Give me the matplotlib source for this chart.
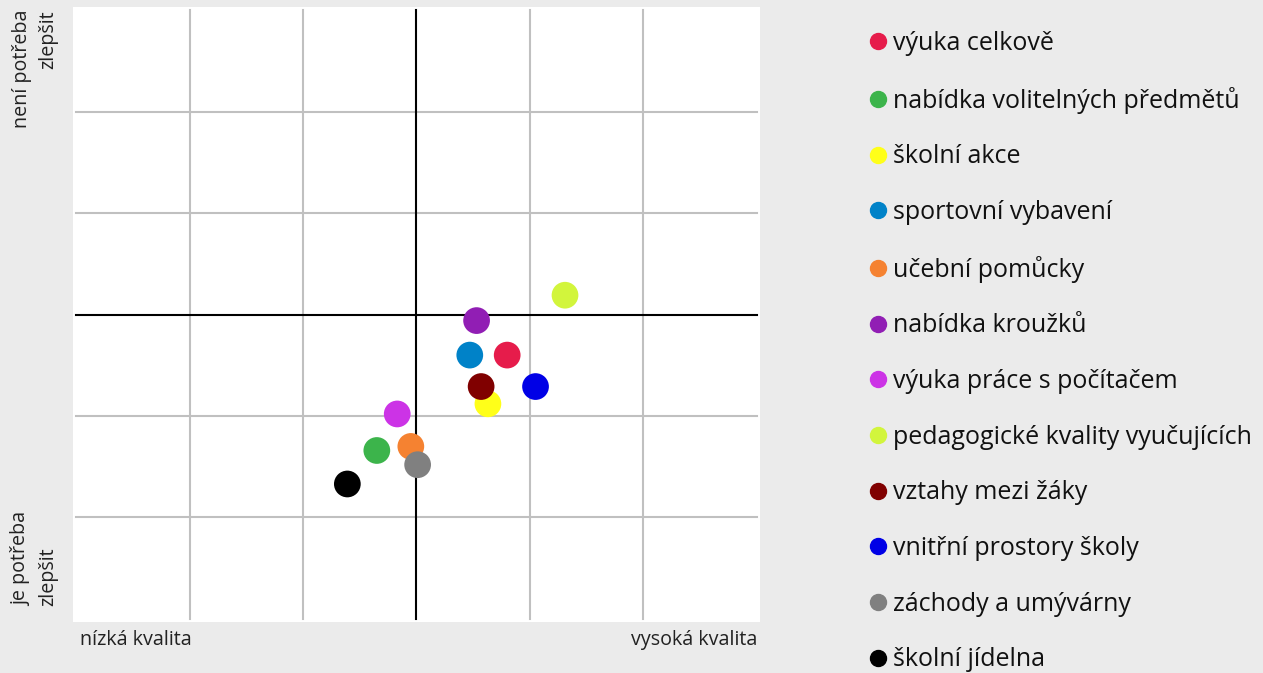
import numpy as np
import matplotlib
matplotlib.use("Agg")
import matplotlib.pyplot as plt
from matplotlib.lines import Line2D

plt.rcParams['font.family'] = ['Open Sans', 'DejaVu Sans']

labels = ['výuka celkově', 'nabídka volitelných předmětů', 'školní akce',
          'sportovní vybavení', 'učební pomůcky', 'nabídka kroužků',
          'výuka práce s počítačem', 'pedagogické kvality vyučujících',
          'vztahy mezi žáky', 'vnitřní prostory školy',
          'záchody a umývárny', 'školní jídelna']
kvalita = [0.80, -0.35, 0.63, 0.47, -0.05, 0.53, -0.17, 1.31, 0.57, 1.05, 0.01, -0.61]
potreba = [-0.40, -1.34, -0.88, -0.40, -1.30, -0.06, -0.98, 0.19, -0.71, -0.71, -1.48, -1.67]
colors = ['#e61c4b', '#3cb44b', '#ffff19', '#0082c8', '#f58231', '#911eb4',
          '#cc33e6', '#d2f53c', '#800000', '#0000e6', '#808080', '#000000']

bg = '#ebebeb'
fig = plt.figure(figsize=(12.63, 6.73), dpi=100, facecolor=bg)
ax = fig.add_axes([73/1263, 51/673, 687/1263, 615/673])
ax.set_facecolor('white')
lim = 3.03
ax.set_xlim(-lim, lim)
ax.set_ylim(-lim, lim)

for v in [-2, -1, 1, 2]:
    ax.plot([v, v], [-3, 3], color='#c0c0c0', lw=1.5, zorder=1)
    ax.plot([-3, 3], [v, v], color='#c0c0c0', lw=1.5, zorder=1)
ax.plot([0, 0], [-3, 3], color='black', lw=1.5, zorder=2)
ax.plot([-3, 3], [0, 0], color='black', lw=1.5, zorder=2)

for x, y, c in zip(kvalita, potreba, colors):
    ax.scatter(x, y, s=370, color=c, edgecolors='none', zorder=3)

ax.set_xticks([])
ax.set_yticks([])
for s in ax.spines.values():
    s.set_visible(False)

fs = 14.2
fig.text(80/1263, 1 - 640/673, 'nízká kvalita', fontsize=fs, color='#222222',
         ha='left', va='center')
fig.text(757/1263, 1 - 640/673, 'vysoká kvalita', fontsize=fs, color='#222222',
         ha='right', va='center')
fig.text(35/1263, 1 - 10/673, 'není potřeba\nzlepšit', fontsize=fs, color='#222222',
         rotation=90, ha='center', va='top', multialignment='right', linespacing=1.45)
fig.text(35/1263, 1 - 606/673, 'je potřeba\nzlepšit', fontsize=fs, color='#222222',
         rotation=90, ha='center', va='bottom', multialignment='left', linespacing=1.45)

handles = [Line2D([], [], marker='o', ls='none', color=c, markersize=11.5) for c in colors]
leg = fig.legend(handles, labels, loc='upper left', bbox_to_anchor=(870.5/1263, 1 - 31/673),
                 frameon=False, fontsize=18, labelspacing=1.227, handlelength=0.6,
                 handletextpad=0.30, borderpad=0, borderaxespad=0)
for t in leg.get_texts():
    t.set_color('#111111')

fig.savefig('out.png', dpi=100, facecolor=bg)
